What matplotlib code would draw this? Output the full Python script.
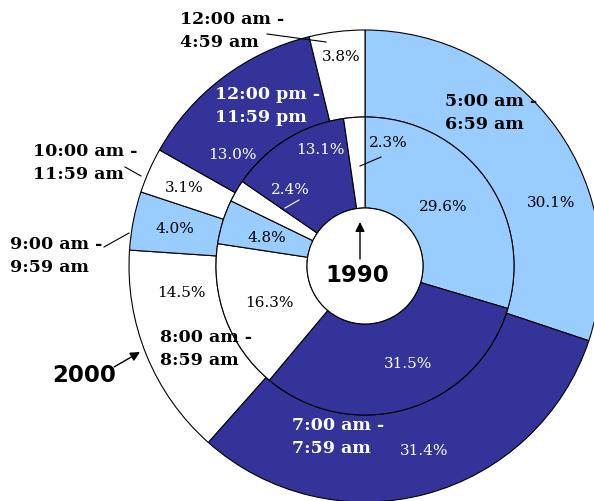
import matplotlib
matplotlib.use('Agg')
import matplotlib.pyplot as plt
from matplotlib.patches import Circle

W, H = 594, 501

# time slots, clockwise from 12 o'clock
slots = ['5:00 am -\n6:59 am', '7:00 am -\n7:59 am', '8:00 am -\n8:59 am',
         '9:00 am -\n9:59 am', '10:00 am -\n11:59 am', '12:00 pm -\n11:59 pm',
         '12:00 am -\n4:59 am']
share_2000 = [30.1, 31.4, 14.5, 4.0, 3.1, 13.0, 3.8]
share_1990 = [29.6, 31.5, 16.3, 4.8, 2.4, 13.1, 2.3]

LIGHT = '#99CCFF'
DARK = '#333399'
slot_colors = [LIGHT, DARK, 'white', LIGHT, 'white', DARK, 'white']

# layout in pixels (from top-left of the picture)
cx, cy = 365, 266
r_outer, r_mid, r_hole = 236, 149, 58

# slot label anchors (left x, block centre y) and text colour
slot_pos = [(445, 113), (292, 437), (160, 349), (10, 256), (33, 163), (215, 106), (180, 31)]
slot_txt = ['black', 'white', 'black', 'black', 'black', 'white', 'black']

pct_pos_2000 = [(551, 203), (424, 451), (181, 293), (175, 229), (184, 188), (232, 155), (341, 57)]
pct_pos_1990 = [(443, 207), (408, 364), (269, 303), (267, 238), (290, 190), (320, 150), (388, 143)]


def px(x, y):
    return x, H - y


fig = plt.figure(figsize=(W / 100, H / 100), dpi=100)
ax = fig.add_axes([0, 0, 1, 1])

wp = dict(edgecolor='black', linewidth=0.8)
ax.pie(share_2000, colors=slot_colors, startangle=90, counterclock=False,
       center=px(cx, cy), radius=r_outer, wedgeprops=dict(width=r_outer - r_mid, **wp))
ax.pie(share_1990, colors=slot_colors, startangle=90, counterclock=False,
       center=px(cx, cy), radius=r_mid, wedgeprops=dict(width=r_mid - r_hole, **wp))
ax.add_patch(Circle(px(cx, cy), r_hole, facecolor='white', edgecolor='black', lw=0.8, zorder=3))

ax.set_xlim(0, W)
ax.set_ylim(0, H)
ax.set_aspect('equal')
ax.axis('off')

pct_font = dict(family='DejaVu Serif', fontsize=11, ha='center', va='center')
for v, (x, y), c in zip(share_2000, pct_pos_2000, slot_colors):
    ax.text(*px(x, y), f'{v:.1f}%', color='white' if c == DARK else 'black', **pct_font)
for i, (v, (x, y), c) in enumerate(zip(share_1990, pct_pos_1990, slot_colors)):
    col = 'white' if (c == DARK or i == 4) else 'black'
    ax.text(*px(x, y), f'{v:.1f}%', color=col, **pct_font)

for s, (x, y), c in zip(slots, slot_pos, slot_txt):
    ax.text(*px(x, y), s, color=c, family='DejaVu Serif', fontweight='bold',
            fontsize=12.5, ha='left', va='center', linespacing=1.45)

# leader lines
leaders = [((267, 34), (326, 42), 'black'),
           ((125, 167), (141, 176), 'black'),
           ((104, 247), (129, 233), 'black'),
           ((381, 157), (360, 166), 'black'),
           ((299, 200), (285, 208), 'white')]
for a, b, c in leaders:
    ax.plot([px(*a)[0], px(*b)[0]], [px(*a)[1], px(*b)[1]], color=c, lw=0.8, zorder=4)

arrow = dict(arrowstyle='-|>', color='black', lw=1, mutation_scale=14, shrinkA=0, shrinkB=0)
ax.annotate('', xy=px(360, 222), xytext=px(360, 259), arrowprops=arrow, zorder=5)
ax.text(*px(357, 276), '1990', ha='center', va='center', fontsize=16.5,
        fontweight='bold', family='DejaVu Sans', zorder=5)
ax.annotate('', xy=px(140, 352), xytext=px(114, 367), arrowprops=arrow)
ax.text(*px(84, 376), '2000', ha='center', va='center', fontsize=16.5,
        fontweight='bold', family='DejaVu Sans')

fig.savefig('out.png', dpi=100)
